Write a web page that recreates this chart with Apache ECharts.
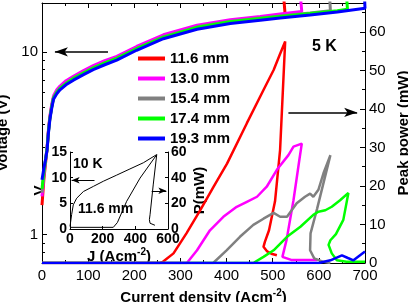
<!DOCTYPE html>
<html style="height: 100%">
<head>
<meta charset="utf-8">
</head>
<body style="height: 100%; margin: 0">
<div id="container" style="width: 408px; height: 302px"></div>
<script src="https://cdn.jsdelivr.net/npm/echarts@6/dist/echarts.min.js"></script>
<script>
var dom = document.getElementById('container');
var myChart = echarts.init(dom);
var font = 'Liberation Sans, Arial, sans-serif';

var names = ['11.6 mm', '13.0 mm', '15.4 mm', '17.4 mm', '19.3 mm'];
var colors = ['#ff0000', '#ff00ff', '#808080', '#00ff00', '#0000ff'];
var voltMinor = [0.8, 0.9, 2, 3, 4, 5, 6, 7, 8, 9];

// voltage (V) vs current density (A/cm2), 5 K
var volt116 = [[0,1.45],[4,2.0],[8,2.5],[11,2.95],[14,3.7],[17,4.35],[21,5.05],[25,5.65],[32,6.05],[39,6.4],[52,6.8],[68,7.25],[90,7.75],[111,8.25],[136,8.8],[162,9.3],[205,10.55],[263,12.2],[336,13.8],[408,14.8],[473,15.4],[527,15.9],[520,26]];
var volt130 = [[0,1.62],[4,2.1],[8,2.6],[11,3.0],[14,3.75],[17,4.45],[21,5.15],[25,5.75],[32,6.2],[39,6.5],[52,6.95],[68,7.35],[90,7.9],[111,8.4],[136,8.95],[162,9.45],[205,10.7],[263,12.4],[336,14.0],[408,15.0],[473,15.6],[516,16.1],[563,16.6],[556,26]];
var volt154 = [[0,1.70],[4,2.15],[8,2.6],[11,2.95],[14,3.7],[17,4.35],[21,5.0],[25,5.6],[32,6.05],[39,6.35],[52,6.75],[68,7.2],[90,7.7],[111,8.2],[136,8.7],[162,9.25],[205,10.45],[263,12.1],[336,13.7],[408,14.7],[473,15.3],[516,15.7],[581,16.3],[625,16.8],[621,26]];
var volt174 = [[0,1.78],[4,2.2],[8,2.6],[11,2.95],[14,3.65],[17,4.3],[21,5.0],[25,5.6],[32,6.0],[39,6.3],[52,6.7],[68,7.15],[90,7.65],[111,8.15],[136,8.7],[162,9.2],[205,10.4],[263,12.0],[336,13.6],[408,14.6],[473,15.2],[516,15.6],[581,16.2],[640,16.8],[662,17.1],[657,26]];
var volt193 = [[0,2.0],[4,2.3],[8,2.6],[11,2.9],[14,3.6],[17,4.25],[21,4.9],[25,5.5],[32,5.9],[39,6.2],[52,6.6],[68,7.0],[90,7.5],[111,8.0],[136,8.5],[162,9.0],[205,10.2],[263,11.8],[336,13.3],[408,14.3],[473,14.9],[516,15.3],[581,15.9],[640,16.5],[700,17.3],[697,26]];

// peak power (mW) vs current density
var pow116 = [[0,0],[255,0],[262,0.3],[285,2.5],[313,7.7],[343,13.7],[372,19.8],[401,25.8],[444,36.3],[480,44.9],[502,50.1],[515,54],[527,57.5],[516,29.4],[505,16],[492,8.5],[483,5.5],[480,4.2],[488,3.0],[497,2.4],[509,2.0]];
var pow130 = [[0,0],[314,0],[336,3.3],[364,8.5],[393,12],[422,14.6],[444,15.9],[466,17.2],[487,19.8],[509,24.2],[534,28],[545,30.2],[563,31.0],[558,27],[545,16.3],[530,6],[521,1.6],[540,0.8],[597,0.8]];
var pow154 = [[0,0],[371,0],[400,3.3],[429,6.8],[458,9.9],[480,11.5],[502,13.0],[516,12.0],[531,12.0],[552,15.5],[570,17.2],[581,18.0],[588,17.2],[599,19.0],[610,23.3],[625,28.0],[596,14],[582,7.7],[581,3.3],[590,1.2],[610,0.3],[625,0]];
var pow174 = [[0,0],[458,0],[480,1.6],[502,3.3],[531,6.8],[560,9.4],[588,12.5],[599,13.3],[614,13.7],[628,14.6],[646,16.3],[664,18.2],[653,11.2],[637,7.5],[625,5.9],[621,4.7],[628,2.5],[639,0.7],[660,0.3],[700,0.3]];
var pow193 = [[0,0],[600,0],[625,0.7],[650,2.0],[663,1.3],[675,0.7],[700,3.0]];

// inset: 11.6 mm at 10 K
var insetVolt = [[0,0.5],[6,0.85],[10,2.8],[20,4.7],[41,6.0],[82,7.3],[143,8.3],[204,9.3],[286,10.5],[367,11.7],[449,12.9],[531,14.5]];
var insetPow = [[0,1.3],[265,1.3],[290,5],[347,21.6],[429,39.7],[531,57.9],[510,35],[490,11.1],[486,7.3],[490,4.5],[502,3.5],[520,2.9]];

var voltData = [volt116, volt130, volt154, volt174, volt193];
var powData = [pow116, pow130, pow154, pow174, pow193];

function arrowLine(from, to, width, size) {
    return {
        silent: true,
        animation: false,
        symbol: ['none', 'arrow'],
        symbolSize: size,
        label: {show: false},
        lineStyle: {color: '#000', width: width, type: 'solid'},
        data: [[{coord: from}, {coord: to}]]
    };
}

var series = [];
for (var i = 0; i < names.length; i++) {
    series.push({
        name: names[i], type: 'line', xAxisIndex: 0, yAxisIndex: 0,
        data: voltData[i], showSymbol: false, animation: false,
        lineStyle: {color: colors[i], width: 3}, itemStyle: {color: colors[i]}
    });
}
for (var i = 0; i < names.length; i++) {
    series.push({
        name: names[i], type: 'line', xAxisIndex: 0, yAxisIndex: 2,
        data: powData[i], showSymbol: false, animation: false,
        lineStyle: {color: colors[i], width: 2.5}, itemStyle: {color: colors[i]}
    });
}
series[0].markLine = arrowLine([143, 10], [28, 10], 1.5, [7, 13]);
series[5].markLine = arrowLine([534, 39.1], [683, 39.1], 1.5, [7, 13]);
series.push({
    type: 'line', xAxisIndex: 2, yAxisIndex: 3, data: insetVolt,
    showSymbol: false, animation: false, lineStyle: {color: '#000', width: 1},
    markLine: arrowLine([150, 9.5], [10, 9.5], 1, [5, 8])
});
series.push({
    type: 'line', xAxisIndex: 2, yAxisIndex: 4, data: insetPow,
    showSymbol: false, animation: false, lineStyle: {color: '#000', width: 1},
    markLine: arrowLine([500, 29.8], [590, 29.8], 1, [5, 8])
});

var axLine = {show: true, onZero: false, lineStyle: {color: '#000', width: 1}};
var lab = {color: '#000', fontSize: 15, fontFamily: font};
var insetLab = {color: '#000', fontSize: 14, fontWeight: 'bold', fontFamily: font, margin: 3};
var nameStyle = {color: '#000', fontSize: 15, fontWeight: 'bold', fontFamily: font};
var supRich = {
    n: {fontSize: 15, fontWeight: 'bold', fontFamily: font, lineHeight: 20, color: '#000'},
    s: {fontSize: 10, fontWeight: 'bold', fontFamily: font, verticalAlign: 'top', lineHeight: 12, color: '#000'}
};

option = {
    animation: false,
    textStyle: {fontFamily: font},
    grid: [
        {left: 42, right: 43, top: 3, bottom: 39, outerBoundsMode: 'none', containLabel: false},
        {left: 70, top: 152, width: 98, height: 77, outerBoundsMode: 'none', containLabel: false}
    ],
    legend: {
        data: names, orient: 'vertical', left: 133, top: 46,
        itemWidth: 27, itemHeight: 4, itemGap: 5, icon: 'rect', selectedMode: false,
        textStyle: {fontSize: 15, fontWeight: 'bold', color: '#000', fontFamily: font}
    },
    xAxis: [
        {
            gridIndex: 0, type: 'value', position: 'bottom', min: 0, max: 700, interval: 100,
            axisLine: axLine, splitLine: {show: false},
            axisTick: {inside: true, length: 5, lineStyle: {color: '#000'}},
            minorTick: {show: true, splitNumber: 2, length: 3, lineStyle: {color: '#000'}},
            axisLabel: Object.assign({margin: 5}, lab),
            name: '{n|Current density (Acm}{s|-2}{n|)}', nameLocation: 'middle', nameGap: 15,
            nameTextStyle: {rich: supRich}
        },
        {
            gridIndex: 0, type: 'value', position: 'top', min: 0, max: 700, interval: 100,
            axisLine: axLine, splitLine: {show: false}, axisLabel: {show: false},
            axisTick: {inside: true, length: 5, lineStyle: {color: '#000'}},
            minorTick: {show: true, splitNumber: 2, length: 3, lineStyle: {color: '#000'}}
        },
        {
            gridIndex: 1, type: 'value', position: 'bottom', min: 0, max: 600, interval: 200,
            axisLine: axLine, splitLine: {show: false},
            axisTick: {inside: true, length: 3, lineStyle: {color: '#000'}},
            axisLabel: insetLab,
            name: '{n|J (Acm}{s|-2}{n|)}', nameLocation: 'middle', nameGap: 10,
            nameTextStyle: {rich: supRich}
        }
    ],
    yAxis: [
        {
            gridIndex: 0, type: 'log', position: 'left', min: 0.7, max: 18.5,
            axisLine: axLine, splitLine: {show: false},
            axisTick: {inside: true, length: 5, lineStyle: {color: '#000'}},
            axisLabel: Object.assign({margin: 4, showMinLabel: false, showMaxLabel: false}, lab),
            name: 'Voltage (V)', nameLocation: 'middle', nameGap: 26, nameTextStyle: nameStyle
        },
        {
            gridIndex: 0, type: 'log', position: 'left', min: 0.7, max: 18.5,
            axisLine: {show: false, onZero: false}, splitLine: {show: false}, axisLabel: {show: false},
            axisTick: {inside: true, length: 3, customValues: voltMinor, lineStyle: {color: '#000'}}
        },
        {
            gridIndex: 0, type: 'value', position: 'right', min: 0, max: 67.5, interval: 10,
            axisLine: axLine, splitLine: {show: false},
            axisTick: {inside: true, length: 5, lineStyle: {color: '#000'}},
            minorTick: {show: true, splitNumber: 2, length: 3, lineStyle: {color: '#000'}},
            axisLabel: Object.assign({margin: 4, showMaxLabel: false}, lab),
            name: 'Peak power (mW)', nameLocation: 'middle', nameGap: 24, nameTextStyle: nameStyle
        },
        {
            gridIndex: 1, type: 'value', position: 'left', min: 0, max: 15, interval: 5,
            axisLine: axLine, splitLine: {show: false},
            axisTick: {inside: true, length: 3, lineStyle: {color: '#000'}},
            axisLabel: insetLab,
            name: 'V', nameLocation: 'middle', nameGap: 11, nameTextStyle: nameStyle
        },
        {
            gridIndex: 1, type: 'value', position: 'right', min: 0, max: 60, interval: 20,
            axisLine: axLine, splitLine: {show: false},
            axisTick: {inside: true, length: 3, lineStyle: {color: '#000'}},
            axisLabel: insetLab,
            name: 'P(mW)', nameLocation: 'middle', nameGap: 24, nameTextStyle: nameStyle
        }
    ],
    graphic: [
        {type: 'text', left: 312, top: 39, style: {text: '5 K', font: 'bold 16px ' + font, fill: '#000'}},
        {type: 'text', left: 73, top: 157, style: {text: '10 K', font: 'bold 14px ' + font, fill: '#000'}},
        {type: 'text', left: 78, top: 202, style: {text: '11.6 mm', font: 'bold 14px ' + font, fill: '#000'}}
    ],
    series: series
};

myChart.setOption(option, true);
</script>
</body>
</html>
